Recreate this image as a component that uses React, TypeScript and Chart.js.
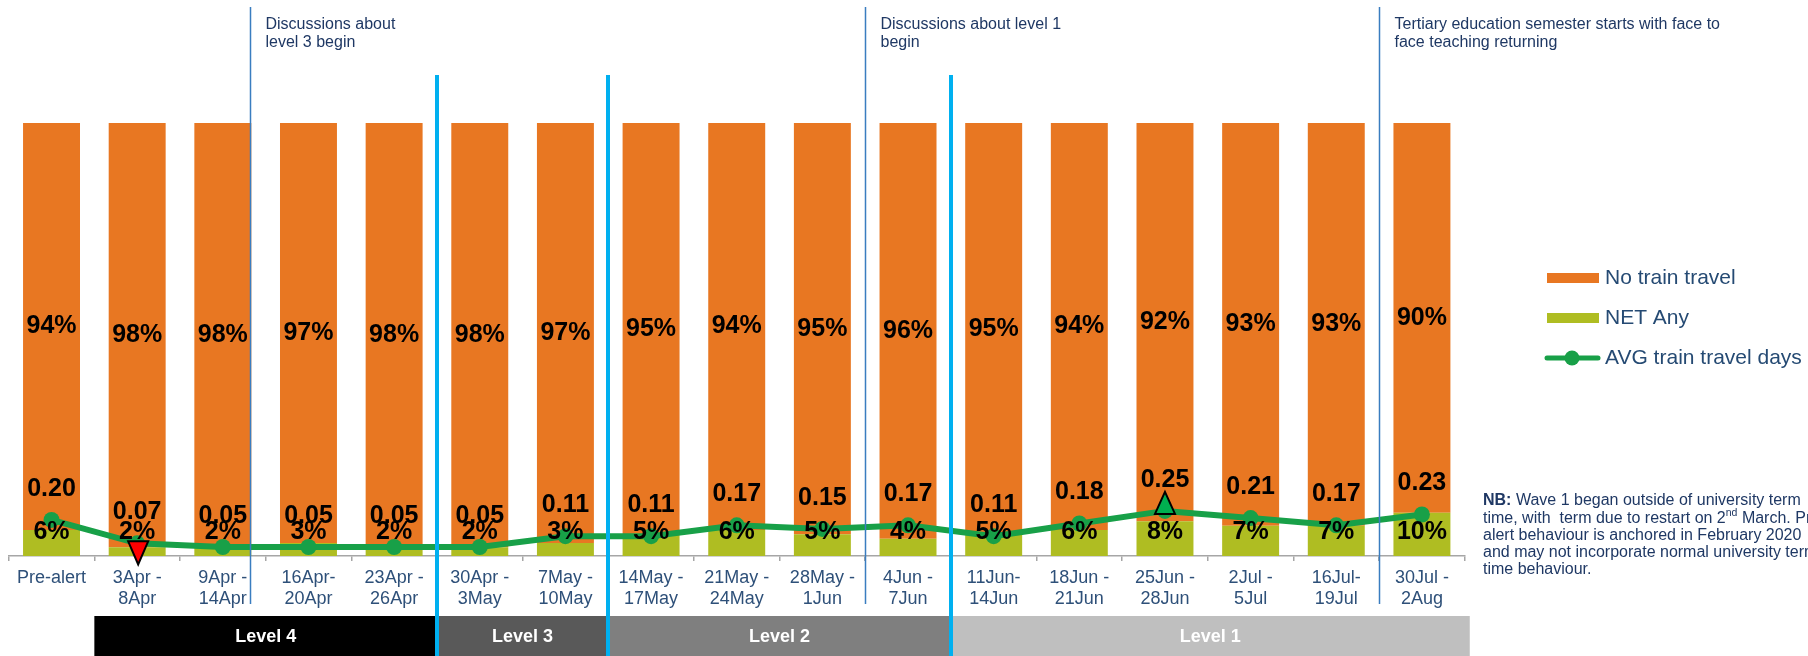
import React, { useEffect, useRef } from 'react';
import { Chart, registerables } from 'chart.js';

Chart.register(...registerables);

const categories: string[][] = [
  ['Pre-alert'], ['3Apr -', '8Apr'], ['9Apr -', '14Apr'], ['16Apr-', '20Apr'], ['23Apr -', '26Apr'],
  ['30Apr -', '3May'], ['7May -', '10May'], ['14May -', '17May'], ['21May -', '24May'], ['28May -', '1Jun'],
  ['4Jun -', '7Jun'], ['11Jun-', '14Jun'], ['18Jun -', '21Jun'], ['25Jun -', '28Jun'], ['2Jul -', '5Jul'],
  ['16Jul-', '19Jul'], ['30Jul -', '2Aug'],
];
const noTrainTravel = [94, 98, 98, 97, 98, 98, 97, 95, 94, 95, 96, 95, 94, 92, 93, 93, 90];
const netAny = [6, 2, 2, 3, 2, 2, 3, 5, 6, 5, 4, 5, 6, 8, 7, 7, 10];
const avgTrainDays = [0.20, 0.07, 0.05, 0.05, 0.05, 0.05, 0.11, 0.11, 0.17, 0.15, 0.17, 0.11, 0.18, 0.25, 0.21, 0.17, 0.23];
// -1 = significantly lower, +1 = significantly higher
const significance = [0, -1, 0, 0, 0, 0, 0, 0, 0, 0, 0, 0, 0, 1, 0, 0, 0];

const levelNames = ['Level 4', 'Level 3', 'Level 2', 'Level 1'];
const levelStarts = [1, 5, 7, 11];
const levelEnds = [5, 7, 11, 17];
const levelColors = ['#000000', '#595959', '#7F7F7F', '#BFBFBF'];
const levelChangeAt = [5, 7, 11];

const eventAt = [2.82, 10, 16];
const eventNotes = [
  ['Discussions about', 'level 3 begin'],
  ['Discussions about level 1', 'begin'],
  ['Tertiary education semester starts with face to', 'face teaching returning'],
];

const nbLines = [
  'Wave 1 began outside of university term',
  'time, with  term due to restart on 2|nd| March. Pre-',
  'alert behaviour is anchored in February 2020',
  'and may not incorporate normal university term',
  'time behaviour.',
];

const FONT = '"Liberation Sans", Arial, Helvetica, sans-serif';
const ORANGE = '#E87722';
const LIME = '#AFBD22';
const GREEN = '#18A048';
const NAVY = '#1F3864';

const overlayPlugin = {
  id: 'overlay',
  afterDatasetsDraw(chart: any) {
    const ctx = chart.ctx as CanvasRenderingContext2D;
    const metaNet = chart.getDatasetMeta(0);
    const metaNo = chart.getDatasetMeta(1);
    const metaAvg = chart.getDatasetMeta(2);
    ctx.save();
    ctx.textAlign = 'center';
    ctx.textBaseline = 'middle';
    ctx.fillStyle = '#000';
    ctx.font = `bold 25px ${FONT}`;
    metaNo.data.forEach((el: any, i: number) => {
      ctx.fillText(noTrainTravel[i] + '%', el.x, (el.y + el.base) / 2);
    });
    metaNet.data.forEach((el: any, i: number) => {
      ctx.fillText(netAny[i] + '%', el.x, el.base - 24);
    });
    metaAvg.data.forEach((el: any, i: number) => {
      ctx.fillText(avgTrainDays[i].toFixed(2), el.x, el.y - 31);
    });
    // significance triangles
    metaAvg.data.forEach((el: any, i: number) => {
      const s = significance[i];
      if (!s) return;
      ctx.beginPath();
      if (s < 0) {
        ctx.moveTo(el.x - 9, el.y - 2);
        ctx.lineTo(el.x + 11, el.y - 2);
        ctx.lineTo(el.x + 1, el.y + 21);
        ctx.fillStyle = '#FF0000';
      } else {
        ctx.moveTo(el.x - 10, el.y + 3);
        ctx.lineTo(el.x + 10, el.y + 3);
        ctx.lineTo(el.x, el.y - 19);
        ctx.fillStyle = '#00B050';
      }
      ctx.closePath();
      ctx.fill();
      ctx.lineWidth = 2;
      ctx.strokeStyle = '#000';
      ctx.stroke();
    });
    ctx.restore();
  },
  afterDraw(chart: any) {
    const ctx = chart.ctx as CanvasRenderingContext2D;
    const xs = chart.scales.x;
    const step = (xs.right - xs.left) / categories.length;
    const pos = (k: number) => xs.left + k * step;
    ctx.save();

    // level bands
    levelNames.forEach((name, i) => {
      const x0 = pos(levelStarts[i]);
      const x1 = pos(levelEnds[i]) + (i === levelNames.length - 1 ? 5 : 0);
      ctx.fillStyle = levelColors[i];
      ctx.fillRect(x0, 616, x1 - x0, 40);
      ctx.fillStyle = '#FFFFFF';
      ctx.font = `bold 18px ${FONT}`;
      ctx.textAlign = 'center';
      ctx.textBaseline = 'middle';
      ctx.fillText(name, (x0 + x1) / 2, 637);
    });

    // level change lines
    ctx.strokeStyle = '#00B0F0';
    ctx.lineWidth = 4;
    levelChangeAt.forEach((k) => {
      const x = Math.round(pos(k));
      ctx.beginPath();
      ctx.moveTo(x, 75);
      ctx.lineTo(x, 656);
      ctx.stroke();
    });

    // events
    eventAt.forEach((k, i) => {
      const x = Math.round(pos(k)) + 0.5;
      ctx.strokeStyle = '#3A7DC0';
      ctx.lineWidth = 1.5;
      ctx.beginPath();
      ctx.moveTo(x, 7);
      ctx.lineTo(x, 604);
      ctx.stroke();
      ctx.fillStyle = NAVY;
      ctx.font = `16px ${FONT}`;
      ctx.textAlign = 'left';
      ctx.textBaseline = 'middle';
      eventNotes[i].forEach((line, j) => ctx.fillText(line, x + 15, 25 + j * 18));
    });

    // legend
    const order = [1, 0, 2];
    order.forEach((di, j) => {
      const ds = chart.data.datasets[di];
      const y = 278 + j * 40;
      if (ds.type === 'line') {
        ctx.strokeStyle = ds.borderColor;
        ctx.lineWidth = 5;
        ctx.lineCap = 'round';
        ctx.beginPath();
        ctx.moveTo(1547, y);
        ctx.lineTo(1598, y);
        ctx.stroke();
        ctx.lineCap = 'butt';
        ctx.fillStyle = ds.borderColor;
        ctx.beginPath();
        ctx.arc(1572, y, 7.5, 0, Math.PI * 2);
        ctx.fill();
      } else {
        ctx.fillStyle = ds.backgroundColor;
        ctx.fillRect(1547, y - 5, 52, 10);
      }
      ctx.fillStyle = '#254A73';
      ctx.font = `21px ${FONT}`;
      ctx.textAlign = 'left';
      ctx.textBaseline = 'middle';
      ctx.fillText(ds.label, 1605, y);
    });

    // NB note
    ctx.fillStyle = NAVY;
    ctx.textAlign = 'left';
    ctx.textBaseline = 'middle';
    nbLines.forEach((line, j) => {
      let x = 1483;
      const y = 501 + j * 17.2;
      if (j === 0) {
        ctx.font = `bold 16px ${FONT}`;
        ctx.fillText('NB:', x, y);
        x += ctx.measureText('NB: ').width;
      }
      const parts = line.split('|');
      parts.forEach((p, k) => {
        if (k % 2 === 1) {
          ctx.font = `10.5px ${FONT}`;
          ctx.fillText(p, x, y - 5);
        } else {
          ctx.font = `16px ${FONT}`;
          ctx.fillText(p, x, y);
        }
        x += ctx.measureText(p).width;
      });
    });

    ctx.restore();
  },
};

export default function App() {
  const ref = useRef<HTMLCanvasElement | null>(null);
  useEffect(() => {
    if (!ref.current) return;
    const chart = new Chart(ref.current, {
      type: 'bar',
      data: {
        labels: categories,
        datasets: [
          {
            type: 'bar',
            label: 'NET Any',
            data: netAny,
            backgroundColor: LIME,
            stack: 's',
            order: 2,
            barPercentage: 0.665,
            categoryPercentage: 1,
          },
          {
            type: 'bar',
            label: 'No train travel',
            data: noTrainTravel,
            backgroundColor: ORANGE,
            stack: 's',
            order: 2,
            barPercentage: 0.665,
            categoryPercentage: 1,
          },
          {
            type: 'line',
            label: 'AVG train travel days',
            data: avgTrainDays,
            yAxisID: 'y2',
            borderColor: GREEN,
            backgroundColor: GREEN,
            borderWidth: 6,
            pointRadius: 8,
            pointBackgroundColor: GREEN,
            pointBorderWidth: 0,
            tension: 0,
            order: 1,
          },
        ] as any,
      },
      options: {
        responsive: false,
        animation: false,
        layout: { padding: { left: 8.7, right: 343.25, top: 123, bottom: 0 } },
        plugins: {
          legend: { display: false },
          tooltip: { enabled: false },
          title: { display: false },
        },
        scales: {
          x: {
            stacked: true,
            offset: true,
            grid: {
              display: true,
              drawOnChartArea: false,
              drawTicks: true,
              tickLength: 5,
              color: '#A6A6A6',
              lineWidth: 1.5,
              offset: true,
            },
            border: { display: true, color: '#A6A6A6', width: 1.5 },
            ticks: {
              color: '#2E5079',
              font: { family: FONT, size: 18, lineHeight: 1.1667 },
              padding: 7,
              maxRotation: 0,
              autoSkip: false,
            },
            afterFit: (s: any) => {
              s.height = 100;
            },
          },
          y: { stacked: true, min: 0, max: 100, display: false },
          y2: { min: 0, max: 2.4, display: false, position: 'right' },
        },
      } as any,
      plugins: [overlayPlugin as any],
    });
    return () => chart.destroy();
  }, []);
  return (
    <div style={{ position: 'absolute', left: 0, top: 0, width: 1808, height: 656, background: '#fff' }}>
      <canvas ref={ref} width={1808} height={656} style={{ display: 'block' }} />
    </div>
  );
}
